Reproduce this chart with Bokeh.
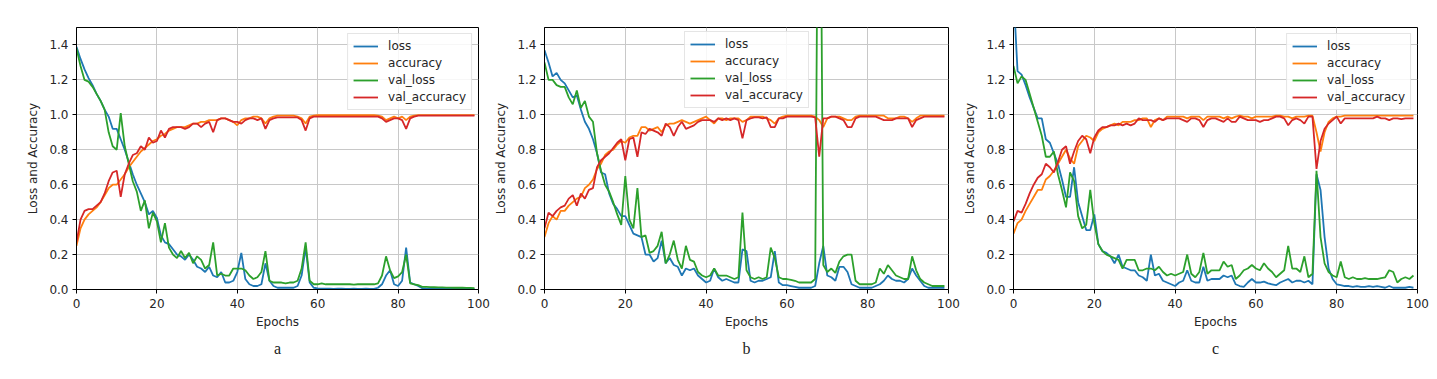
from bokeh.plotting import figure
from bokeh.layouts import row
from bokeh.models import Range1d, FixedTicker, Title, Legend, LegendItem, NumeralTickFormatter
from bokeh.embed import file_html
from bokeh.resources import INLINE

EPOCHS = list(range(100))
SERIES_NAMES = ["loss", "accuracy", "val_loss", "val_accuracy"]
SERIES_COLORS = ["#1f77b4", "#ff7f0e", "#2ca02c", "#d62728"]
PANEL_LABELS = ["a", "b", "c"]
X_TICKS = [0, 20, 40, 60, 80, 100]
Y_TICKS = [0.0, 0.2, 0.4, 0.6, 0.8, 1.0, 1.2, 1.4]

# ---------------- panel a ----------------
A_loss = [1.39, 1.32, 1.26, 1.21, 1.17, 1.12, 1.08, 1.03, 0.99, 0.92,
          0.92, 0.86, 0.80, 0.73, 0.66, 0.60, 0.55, 0.50, 0.43, 0.45,
          0.41, 0.31, 0.27, 0.26, 0.23, 0.20, 0.19, 0.17, 0.20, 0.17,
          0.13, 0.12, 0.10, 0.13, 0.08, 0.07, 0.10, 0.04, 0.04, 0.05,
          0.10, 0.21, 0.06, 0.03, 0.02, 0.02, 0.03, 0.15, 0.05, 0.02,
          0.01, 0.01, 0.01, 0.01, 0.01, 0.02, 0.08, 0.24, 0.04, 0.01,
          0.006, 0.005, 0.005, 0.005, 0.004, 0.005, 0.005, 0.004, 0.004, 0.005,
          0.004, 0.004, 0.005, 0.004, 0.004, 0.01, 0.03, 0.08, 0.11, 0.03,
          0.02, 0.05, 0.24, 0.04, 0.03, 0.02, 0.008, 0.006, 0.005, 0.005,
          0.004, 0.004, 0.004, 0.003, 0.004, 0.003, 0.003, 0.003, 0.003, 0.003]
A_acc = [0.25, 0.35, 0.40, 0.43, 0.45, 0.47, 0.50, 0.54, 0.58, 0.60,
         0.60, 0.63, 0.66, 0.70, 0.73, 0.76, 0.79, 0.81, 0.83, 0.85,
         0.86, 0.88, 0.89, 0.91, 0.92, 0.93, 0.93, 0.93, 0.94, 0.95,
         0.95, 0.96, 0.96, 0.97, 0.97, 0.97, 0.98, 0.98, 0.97, 0.96,
         0.94, 0.97, 0.98, 0.98, 0.99, 0.99, 0.98, 0.95, 0.98, 0.99,
         0.995, 0.995, 0.995, 0.995, 0.995, 0.99, 0.98, 0.95, 0.99, 0.995,
         0.998, 0.998, 0.998, 0.998, 0.998, 0.998, 0.998, 0.998, 0.998, 0.998,
         0.998, 0.998, 0.998, 0.998, 0.998, 0.995, 0.99, 0.97, 0.98, 0.99,
         0.98, 0.99, 0.97, 0.99, 0.995, 0.998, 0.998, 0.998, 0.998, 0.998,
         0.998, 0.998, 0.998, 0.998, 0.998, 0.998, 0.998, 0.998, 0.998, 0.998]
A_vloss = [1.38, 1.28, 1.20, 1.19, 1.16, 1.12, 1.08, 1.03, 0.90, 0.82,
           0.80, 1.01, 0.82, 0.72, 0.62, 0.56, 0.45, 0.51, 0.35, 0.44,
           0.39, 0.27, 0.38, 0.24, 0.20, 0.18, 0.22, 0.18, 0.21, 0.15,
           0.19, 0.17, 0.12, 0.14, 0.27, 0.08, 0.09, 0.08, 0.08, 0.12,
           0.12, 0.12, 0.11, 0.08, 0.06, 0.07, 0.10, 0.22, 0.05, 0.04,
           0.04, 0.04, 0.035, 0.04, 0.04, 0.05, 0.12, 0.27, 0.05, 0.03,
           0.03, 0.035, 0.03, 0.03, 0.03, 0.03, 0.03, 0.03, 0.03, 0.028,
           0.03, 0.03, 0.03, 0.03, 0.03, 0.035, 0.08, 0.19, 0.11, 0.065,
           0.075, 0.10, 0.20, 0.035, 0.03, 0.025, 0.015, 0.015, 0.014, 0.013,
           0.012, 0.012, 0.011, 0.011, 0.010, 0.010, 0.010, 0.009, 0.009, 0.008]
A_vacc = [0.27, 0.40, 0.45, 0.46, 0.46, 0.48, 0.50, 0.55, 0.62, 0.67,
          0.68, 0.53, 0.66, 0.72, 0.77, 0.78, 0.82, 0.80, 0.87, 0.84,
          0.85, 0.91, 0.87, 0.92, 0.93, 0.93, 0.93, 0.92, 0.93, 0.95,
          0.95, 0.93, 0.95, 0.96, 0.90, 0.97, 0.98, 0.98, 0.97, 0.96,
          0.96, 0.95, 0.97, 0.98, 0.98, 0.97, 0.98, 0.92, 0.97, 0.98,
          0.985, 0.985, 0.985, 0.985, 0.985, 0.985, 0.97, 0.91, 0.98, 0.99,
          0.99, 0.99, 0.99, 0.99, 0.99, 0.99, 0.99, 0.99, 0.99, 0.99,
          0.99, 0.99, 0.99, 0.99, 0.99, 0.99, 0.98, 0.96, 0.97, 0.98,
          0.98, 0.97, 0.92, 0.98, 0.99, 0.995, 0.995, 0.995, 0.995, 0.995,
          0.995, 0.995, 0.995, 0.995, 0.995, 0.995, 0.995, 0.995, 0.995, 0.995]

# ---------------- panel b ----------------
B_loss = [1.37, 1.30, 1.22, 1.24, 1.20, 1.18, 1.14, 1.10, 1.11, 1.03,
          0.96, 0.92, 0.86, 0.78, 0.67, 0.66, 0.55, 0.49, 0.46, 0.42,
          0.42, 0.37, 0.32, 0.31, 0.30, 0.20, 0.20, 0.16, 0.18, 0.28,
          0.15, 0.18, 0.14, 0.13, 0.08, 0.12, 0.11, 0.12, 0.08, 0.06,
          0.04, 0.05, 0.12, 0.07, 0.05, 0.06, 0.05, 0.04, 0.04, 0.23,
          0.22, 0.05, 0.04, 0.05, 0.05, 0.06, 0.07, 0.22, 0.04, 0.025,
          0.025, 0.02, 0.015, 0.01, 0.01, 0.01, 0.01, 0.02, 0.15, 0.25,
          0.08, 0.07, 0.05, 0.13, 0.13, 0.10, 0.03, 0.02, 0.01, 0.01,
          0.01, 0.01, 0.02, 0.03, 0.05, 0.08, 0.06, 0.05, 0.05, 0.04,
          0.06, 0.12, 0.08, 0.05, 0.02, 0.01, 0.01, 0.01, 0.01, 0.01]
B_acc = [0.30, 0.38, 0.42, 0.40, 0.45, 0.45, 0.48, 0.50, 0.52, 0.53,
         0.58, 0.60, 0.63, 0.69, 0.72, 0.77, 0.79, 0.80, 0.83, 0.85,
         0.84, 0.87, 0.88, 0.88, 0.93, 0.93, 0.91, 0.92, 0.93, 0.90,
         0.94, 0.95, 0.95, 0.96, 0.97, 0.96, 0.95, 0.96, 0.97, 0.98,
         0.99, 0.97, 0.95, 0.98, 0.98, 0.97, 0.98, 0.98, 0.98, 0.96,
         0.97, 0.99, 0.99, 0.99, 0.99, 0.98, 0.97, 0.95, 0.98, 0.99,
         0.995, 0.995, 0.995, 0.995, 0.995, 0.995, 0.995, 0.99, 0.97, 0.93,
         0.98, 0.99, 0.99, 0.99, 0.98, 0.97, 0.97, 0.99, 0.995, 0.995,
         0.995, 0.995, 0.995, 0.995, 0.995, 0.98, 0.98, 0.98, 0.99, 0.99,
         0.98, 0.96, 0.98, 0.995, 0.995, 0.995, 0.995, 0.995, 0.995, 0.995]
B_vloss = [1.30, 1.20, 1.20, 1.17, 1.16, 1.16, 1.10, 1.06, 1.14, 1.04,
           1.08, 0.99, 0.96, 0.78, 0.68, 0.60, 0.56, 0.50, 0.43, 0.37,
           0.65, 0.40, 0.35, 0.58, 0.30, 0.31, 0.21, 0.22, 0.25, 0.33,
           0.15, 0.20, 0.28, 0.17, 0.12, 0.25, 0.17, 0.16, 0.10, 0.08,
           0.07, 0.08, 0.12, 0.08, 0.08, 0.08, 0.07, 0.06, 0.07, 0.44,
           0.11, 0.07, 0.06, 0.07, 0.06, 0.07, 0.24, 0.18, 0.07, 0.06,
           0.06, 0.055, 0.05, 0.04, 0.04, 0.04, 0.04, 0.06, 3.50, 0.14,
           0.10, 0.12, 0.095, 0.16, 0.19, 0.20, 0.20, 0.05, 0.03, 0.03,
           0.03, 0.03, 0.04, 0.12, 0.09, 0.14, 0.11, 0.08, 0.07, 0.06,
           0.06, 0.19, 0.11, 0.06, 0.04, 0.03, 0.02, 0.02, 0.02, 0.02]
B_vacc = [0.35, 0.44, 0.42, 0.45, 0.47, 0.48, 0.52, 0.54, 0.48, 0.55,
          0.52, 0.57, 0.58, 0.70, 0.74, 0.76, 0.78, 0.81, 0.84, 0.86,
          0.74, 0.86, 0.87, 0.76, 0.90, 0.89, 0.92, 0.91, 0.90, 0.88,
          0.95, 0.93, 0.88, 0.93, 0.96, 0.92, 0.93, 0.94, 0.96, 0.97,
          0.97, 0.97, 0.96, 0.98, 0.97, 0.98, 0.97, 0.98, 0.97, 0.865,
          0.97, 0.98, 0.985, 0.985, 0.98, 0.985, 0.93, 0.93, 0.98, 0.98,
          0.99, 0.99, 0.99, 0.99, 0.99, 0.99, 0.99, 0.985, 0.76, 0.98,
          0.98, 0.99, 0.99, 0.98, 0.97, 0.93, 0.93, 0.98, 0.99, 0.99,
          0.99, 0.99, 0.99, 0.98, 0.97, 0.97, 0.97, 0.98, 0.98, 0.98,
          0.98, 0.93, 0.97, 0.98, 0.99, 0.99, 0.99, 0.99, 0.99, 0.99]

# ---------------- panel c ----------------
C_loss = [1.70, 1.25, 1.23, 1.17, 1.10, 1.04, 0.98, 0.98, 0.86, 0.84,
          0.78, 0.72, 0.63, 0.53, 0.53, 0.70, 0.50, 0.42, 0.34, 0.34,
          0.43, 0.26, 0.22, 0.21, 0.19, 0.15, 0.20, 0.13, 0.12, 0.11,
          0.11, 0.08, 0.07, 0.05, 0.20, 0.08, 0.09, 0.05, 0.04, 0.03,
          0.02, 0.04, 0.05, 0.11, 0.05, 0.04, 0.04, 0.13, 0.05, 0.06,
          0.06, 0.06, 0.08, 0.07, 0.08, 0.03, 0.02, 0.015, 0.04, 0.06,
          0.04, 0.04, 0.045, 0.035, 0.03, 0.025, 0.04, 0.05, 0.06, 0.04,
          0.05, 0.05, 0.04, 0.05, 0.03, 0.66, 0.57, 0.30, 0.12, 0.06,
          0.03, 0.025, 0.02, 0.02, 0.015, 0.02, 0.015, 0.015, 0.02, 0.015,
          0.02, 0.015, 0.01, 0.02, 0.01, 0.01, 0.01, 0.01, 0.015, 0.01]
C_acc = [0.32, 0.38, 0.40, 0.45, 0.49, 0.53, 0.57, 0.57, 0.63, 0.65,
         0.68, 0.72, 0.76, 0.80, 0.75, 0.72, 0.82, 0.85, 0.88, 0.87,
         0.85, 0.90, 0.92, 0.93, 0.94, 0.95, 0.94, 0.96, 0.96, 0.96,
         0.97, 0.97, 0.98, 0.98, 0.93, 0.97, 0.98, 0.97, 0.99, 0.99,
         0.99, 0.99, 0.99, 0.98, 0.99, 0.99, 0.99, 0.97, 0.99, 0.99,
         0.99, 0.99, 0.98, 0.99, 0.98, 0.99, 0.995, 0.99, 0.99, 0.98,
         0.99, 0.99, 0.99, 0.99, 0.99, 0.995, 0.995, 0.99, 0.99, 0.98,
         0.99, 0.99, 0.99, 0.995, 0.995, 0.90, 0.79, 0.90, 0.96, 0.98,
         0.99, 0.99, 0.995, 0.995, 0.995, 0.995, 0.995, 0.995, 0.995, 0.995,
         0.995, 0.995, 0.995, 0.995, 0.995, 0.995, 0.995, 0.995, 0.995, 0.995]
C_vloss = [1.28, 1.18, 1.22, 1.20, 1.12, 1.04, 0.96, 0.88, 0.76, 0.76,
           0.79, 0.66, 0.57, 0.47, 0.67, 0.62, 0.42, 0.35, 0.37, 0.57,
           0.38, 0.26, 0.22, 0.20, 0.19, 0.18, 0.17, 0.12, 0.17, 0.17,
           0.17, 0.11, 0.11, 0.12, 0.12, 0.11, 0.13, 0.10, 0.08, 0.09,
           0.08, 0.09, 0.10, 0.20, 0.09, 0.07, 0.10, 0.21, 0.09, 0.11,
           0.11, 0.11, 0.16, 0.13, 0.14, 0.06, 0.08, 0.11, 0.12, 0.14,
           0.12, 0.11, 0.15, 0.12, 0.10, 0.07, 0.09, 0.11, 0.25, 0.12,
           0.12, 0.10, 0.19, 0.07, 0.09, 0.68, 0.30, 0.15, 0.10, 0.08,
           0.07, 0.16, 0.07, 0.06, 0.07, 0.06, 0.06, 0.065, 0.06, 0.06,
           0.06, 0.065, 0.07, 0.11, 0.10, 0.04, 0.06, 0.07, 0.06, 0.08]
C_vacc = [0.39, 0.45, 0.44, 0.49, 0.55, 0.60, 0.64, 0.66, 0.72, 0.70,
          0.67, 0.73, 0.80, 0.82, 0.72, 0.79, 0.85, 0.88, 0.86, 0.78,
          0.87, 0.91, 0.93, 0.93, 0.94, 0.94, 0.95, 0.94, 0.95, 0.94,
          0.95, 0.98, 0.97, 0.97, 0.97, 0.96, 0.98, 0.97, 0.98, 0.98,
          0.98, 0.98, 0.97, 0.96, 0.98, 0.98, 0.97, 0.93, 0.97, 0.98,
          0.98, 0.97, 0.96, 0.98, 0.96, 0.96, 0.99, 0.98, 0.97, 0.97,
          0.97, 0.96, 0.97, 0.97, 0.98, 0.99, 0.99, 0.98, 0.94, 0.97,
          0.98, 0.97, 0.95, 0.99, 0.99, 0.69, 0.85, 0.92, 0.95, 0.97,
          0.99, 0.95, 0.98, 0.98, 0.98, 0.98, 0.98, 0.98, 0.98, 0.98,
          0.99, 0.98, 0.98, 0.97, 0.98, 0.98, 0.975, 0.98, 0.98, 0.98]

PANELS = [
    [A_loss, A_acc, A_vloss, A_vacc],
    [B_loss, B_acc, B_vloss, B_vacc],
    [C_loss, C_acc, C_vloss, C_vacc],
]

TEXT = "#262626"
FONT = "DejaVu Sans"

# layout: (figure width, left border, legend location)
LAYOUT = [
    (490, 76, "top_right"),
    (470, 54, (140, 181)),
    (469, 53, "top_right"),
]


def make_panel(label, series, width, left, loc):
    p = figure(width=width, height=371,
               x_range=Range1d(0, 100), y_range=Range1d(0, 1.5),
               output_backend="svg", toolbar_location=None,
               min_border_left=left, min_border_right=12,
               min_border_top=27, min_border_bottom=82,
               background_fill_color="white", border_fill_color="white")
    p.outline_line_color = "black"
    p.outline_line_width = 1
    p.grid.grid_line_color = "#c8c8c8"
    p.grid.grid_line_width = 1
    p.xaxis.ticker = FixedTicker(ticks=X_TICKS)
    p.yaxis.ticker = FixedTicker(ticks=Y_TICKS)
    p.yaxis.formatter = NumeralTickFormatter(format="0.0")
    for ax in (p.xaxis, p.yaxis):
        ax.major_tick_in = 0
        ax.major_tick_out = 4
        ax.minor_tick_line_color = None
        ax.axis_line_color = "black"
        ax.major_tick_line_color = "black"
        ax.major_label_text_font = FONT
        ax.major_label_text_font_size = "12px"
        ax.major_label_text_color = TEXT
        ax.axis_label_text_font = FONT
        ax.axis_label_text_font_size = "12px"
        ax.axis_label_text_font_style = "normal"
        ax.axis_label_text_color = TEXT
    p.xaxis.major_label_standoff = 5
    p.yaxis.major_label_standoff = 4
    p.xaxis.axis_label = "Epochs"
    p.yaxis.axis_label = "Loss and Accuracy"
    p.xaxis.axis_label_standoff = 4
    p.yaxis.axis_label_standoff = 6

    items = []
    for name, color, vals in zip(SERIES_NAMES, SERIES_COLORS, series):
        r = p.line(EPOCHS, vals, line_color=color, line_width=1.8)
        items.append(LegendItem(label=name, renderers=[r]))
    legend = Legend(items=items, location=loc,
                    label_text_font=FONT, label_text_font_size="12px",
                    label_text_color=TEXT,
                    border_line_color="#cccccc", border_line_width=1,
                    background_fill_color="white", background_fill_alpha=0.85,
                    glyph_width=25, glyph_height=14, label_height=14,
                    label_standoff=10, padding=5, spacing=3, margin=6)
    p.add_layout(legend)

    t = Title(text=label, align="center", text_font="Liberation Serif",
              text_font_size="16px", text_font_style="normal",
              text_color="#222222", standoff=13)
    p.add_layout(t, "below")
    return p


figs = [make_panel(lab, ser, w, l, loc)
        for lab, ser, (w, l, loc) in zip(PANEL_LABELS, PANELS, LAYOUT)]
layout = row(*figs)
open("out.html", "w").write(file_html(layout, INLINE))
